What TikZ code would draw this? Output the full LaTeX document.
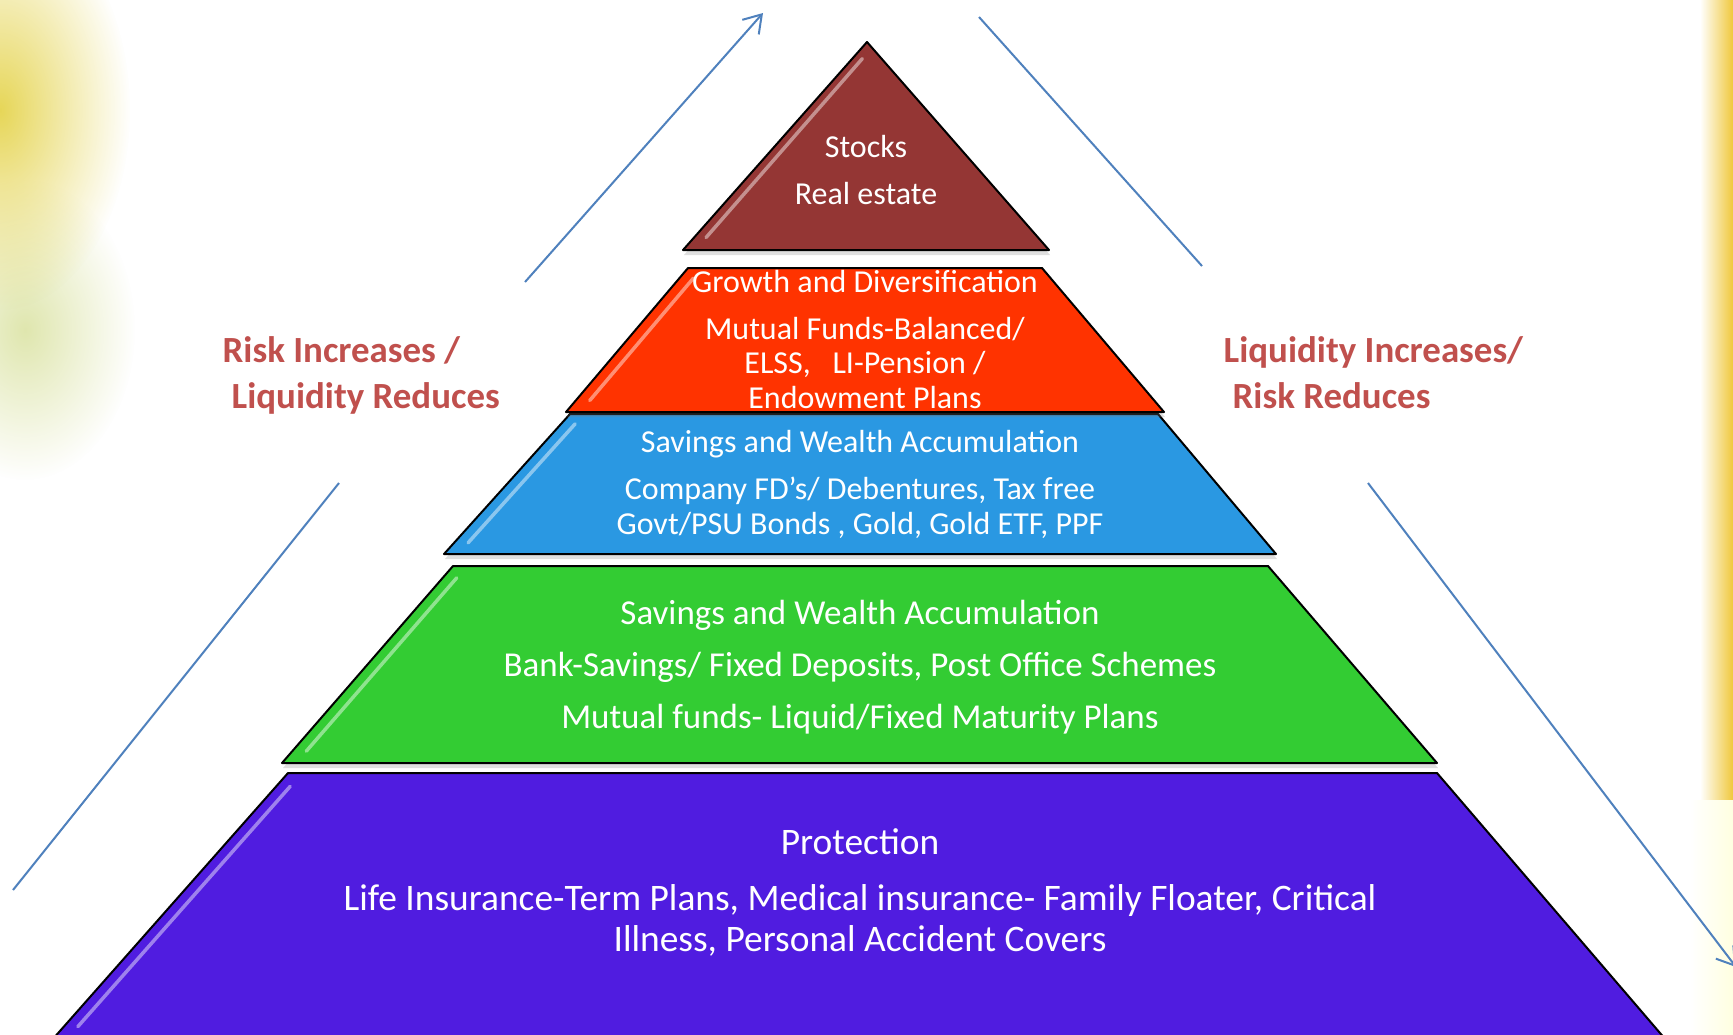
\documentclass[tikz,border=0pt]{standalone}
\usepackage{fontspec}
\setmainfont{Carlito}
\usetikzlibrary{positioning,calc,arrows.meta,shadows,fadings}

\definecolor{stockred}{RGB}{148,54,52}
\definecolor{growthred}{RGB}{255,51,0}
\definecolor{savblue}{RGB}{42,152,226}
\definecolor{savgreen}{RGB}{51,204,51}
\definecolor{protpurple}{RGB}{80,28,224}
\definecolor{labred}{RGB}{192,80,77}
\definecolor{trendblue}{RGB}{79,129,189}
\definecolor{leafyellow}{RGB}{228,210,70}
\definecolor{leafgreen}{RGB}{210,220,140}
\definecolor{stripgold}{RGB}{240,200,60}

\tikzfading[name=softblot, inner color=transparent!0, outer color=transparent!100]

\tikzstyle{layer}=[draw=black, line width=0.2mm, line join=round, drop shadow={opacity=0.25, shadow xshift=0.1mm, shadow yshift=-0.5mm}]
\tikzstyle{gloss}=[draw=white, opacity=0.45, line width=0.35mm, line cap=round]
\tikzstyle{ltext}=[text=white, inner sep=0pt, anchor=base]
\tikzstyle{txs}=[ltext, font=\fontsize{9.1}{11}\selectfont]
\tikzstyle{txm}=[ltext, font=\fontsize{9.95}{12}\selectfont]
\tikzstyle{txl}=[ltext, font=\fontsize{10.65}{13}\selectfont]
\tikzstyle{lab}=[text=labred, inner sep=0pt, anchor=base west, font=\fontsize{10.5}{13}\selectfont\bfseries]
\tikzstyle{trend}=[draw=trendblue, line width=0.2mm]
\tikzstyle{trendarr}=[trend, -{Straight Barb[length=1.7mm,width=2.2mm]}]
\tikzstyle{blot}=[path fading=softblot]

\begin{document}
\begin{tikzpicture}[x=0.1mm, y=-0.1mm]
\useasboundingbox (0,0) rectangle (1733,1034);
\fill[white] (0,0) rectangle (1733,1034);

% background leaves
\fill[leafgreen, blot, opacity=0.7] (25,330) ellipse [x radius=110, y radius=150];
\fill[leafyellow, blot, opacity=0.9] (0,110) ellipse [x radius=130, y radius=200];
\shade[left color=white, right color=stripgold] (1700,0) rectangle (1733,800);
\shade[left color=white, right color=yellow!12] (1690,800) rectangle (1733,1034);

% layer corners
\coordinate (st-top) at (867,42);
\coordinate (st-bl) at (683,250);
\coordinate (st-br) at (1049,250);
\coordinate (gd-tl) at (688,268);
\coordinate (gd-tr) at (1042,268);
\coordinate (gd-bl) at (566,412);
\coordinate (gd-br) at (1164,412);
\coordinate (sb-tl) at (570,414);
\coordinate (sb-tr) at (1158,414);
\coordinate (sb-bl) at (444,554);
\coordinate (sb-br) at (1276,554);
\coordinate (sg-tl) at (453,566);
\coordinate (sg-tr) at (1268,566);
\coordinate (sg-bl) at (282,763);
\coordinate (sg-br) at (1437,763);
\coordinate (pr-tl) at (288,773);
\coordinate (pr-tr) at (1437,773);
\coordinate (pr-bl) at (52,1040);
\coordinate (pr-br) at (1666,1040);

% layers, bottom up
\draw[layer, fill=protpurple] (pr-tl) -- (pr-tr) -- (pr-br) -- (pr-bl) -- cycle;
\draw[layer, fill=savgreen] (sg-tl) -- (sg-tr) -- (sg-br) -- (sg-bl) -- cycle;
\draw[layer, fill=savblue] (sb-tl) -- (sb-tr) -- (sb-br) -- (sb-bl) -- cycle;
\draw[layer, fill=growthred] (gd-tl) -- (gd-tr) -- (gd-br) -- (gd-bl) -- cycle;
\draw[layer, fill=stockred] (st-top) -- (st-br) -- (st-bl) -- cycle;

% bevel highlights
\draw[gloss] ($(pr-tl)!0.05!(pr-bl)+(14,0)$) -- ($(pr-tl)!0.95!(pr-bl)+(14,0)$);
\draw[gloss] ($(sg-tl)!0.06!(sg-bl)+(14,0)$) -- ($(sg-tl)!0.94!(sg-bl)+(14,0)$);
\draw[gloss] ($(sb-tl)!0.07!(sb-bl)+(14,0)$) -- ($(sb-tl)!0.92!(sb-bl)+(14,0)$);
\draw[gloss] ($(gd-tl)!0.07!(gd-bl)+(14,0)$) -- ($(gd-tl)!0.92!(gd-bl)+(14,0)$);
\draw[gloss] ($(st-top)!0.08!(st-bl)+(10,0)$) -- ($(st-top)!0.94!(st-bl)+(12,0)$);

% Stocks
\node (stocks) [txs] at (866,157) {Stocks};
\node (realest) [txs, below=4.7mm of stocks.base, anchor=base] {Real estate};

% Growth
\node (growth) [txs] at (865,292) {Growth and Diversification};
\node (mfbal) [txs, below=4.7mm of growth.base, anchor=base] {Mutual Funds-Balanced/};
\node (elss) [txs, below=3.45mm of mfbal.base, anchor=base] {ELSS,\ \ \ LI-Pension /};
\node (endow) [txs, below=3.45mm of elss.base, anchor=base] {Endowment Plans};

% Savings (blue)
\node (savb) [txs] at (860,452) {Savings and Wealth Accumulation};
\node (compfd) [txs, below=4.75mm of savb.base, anchor=base] {Company FD’s/ Debentures, Tax free};
\node (govt) [txs, below=3.45mm of compfd.base, anchor=base] {Govt/PSU Bonds , Gold, Gold ETF, PPF};

% Savings (green)
\node (savg) [txm] at (860,624) {Savings and Wealth Accumulation};
\node (bank) [txm, below=5.2mm of savg.base, anchor=base] {Bank-Savings/ Fixed Deposits, Post Office Schemes};
\node (mfliq) [txm, below=5.2mm of bank.base, anchor=base] {Mutual funds- Liquid/Fixed Maturity Plans};

% Protection
\node (prot) [txl] at (860,854) {Protection};
\node (lifeins) [txl, below=5.6mm of prot.base, anchor=base] {Life Insurance-Term Plans, Medical insurance- Family Floater, Critical};
\node (illness) [txl, below=4.1mm of lifeins.base, anchor=base] {Illness, Personal Accident Covers};

% side labels
\node (riskinc) [lab] at (222,362) {Risk Increases /};
\node (liqred) [lab, below=4.6mm of riskinc.base west, anchor=base west, xshift=0.9mm] {Liquidity Reduces};
\node (liqinc) [lab] at (1223,362) {Liquidity Increases/};
\node (riskred) [lab, below=4.6mm of liqinc.base west, anchor=base west, xshift=0.9mm] {Risk Reduces};

% trend lines
\coordinate (risk-a) at (13,890);
\coordinate (risk-b) at (339,483);
\coordinate (risk-c) at (525,282);
\coordinate (risk-d) at (763,13);
\coordinate (liq-a) at (979,17);
\coordinate (liq-b) at (1202,266);
\coordinate (liq-c) at (1368,483);
\coordinate (liq-d) at (1736,967);
\draw[trend] (risk-a) -- (risk-b);
\draw[trendarr] (risk-c) -- (risk-d);
\draw[trend] (liq-a) -- (liq-b);
\draw[trendarr] (liq-c) -- (liq-d);

\end{tikzpicture}
\end{document}
